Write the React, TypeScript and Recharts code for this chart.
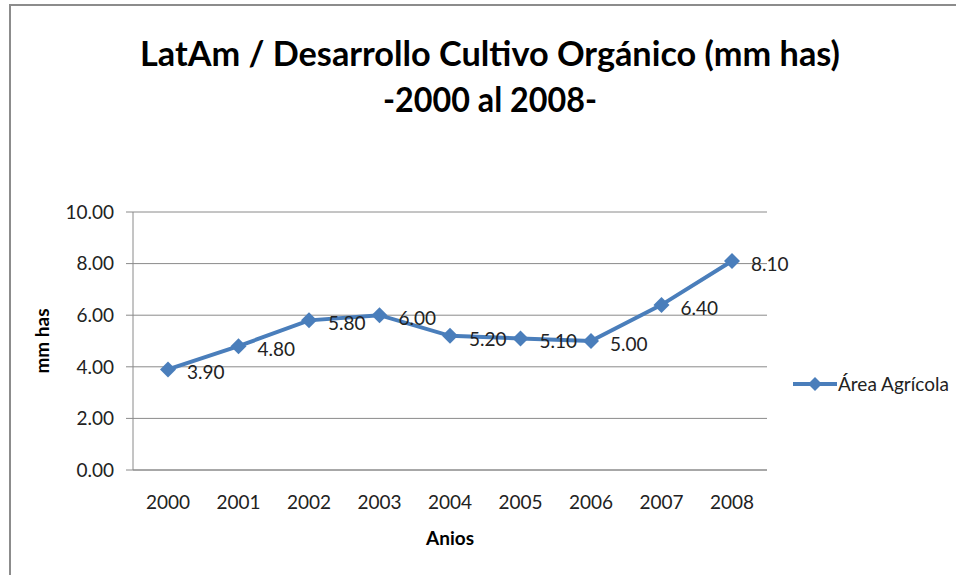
import React from "react"
import { LineChart, Line, XAxis, YAxis, CartesianGrid, LabelList, Legend } from "recharts"

const years = ["2000", "2001", "2002", "2003", "2004", "2005", "2006", "2007", "2008"]
const areaAgricola = [3.9, 4.8, 5.8, 6.0, 5.2, 5.1, 5.0, 6.4, 8.1]
const yTicks = [0, 2, 4, 6, 8, 10]

const seriesName = "Área Agrícola"
const blue = "#4a7ebb"
const font = "Lato, 'Open Sans', sans-serif"

const data = years.map((year, i) => ({ year, value: areaAgricola[i] }))

const Diamond = (props: any) => {
  const { cx, cy } = props
  if (cx == null || cy == null) return null
  const r = 8
  return (
    <path
      d={`M${cx},${cy - r} L${cx + r},${cy} L${cx},${cy + r} L${cx - r},${cy} Z`}
      fill={blue}
      stroke="none"
    />
  )
}

const LegendBox = () => (
  <div style={{ display: "flex", alignItems: "center", fontFamily: font, fontSize: 19, color: "#222", whiteSpace: "nowrap" }}>
    <svg width={44} height={20}>
      <line x1={0} y1={10} x2={44} y2={10} stroke={blue} strokeWidth={4} />
      <path d="M22,3 L29,10 L22,17 L15,10 Z" fill={blue} />
    </svg>
    <span style={{ marginLeft: 1 }}>{seriesName}</span>
  </div>
)

export default function App() {
  return (
    <div style={{ position: "absolute", left: 0, top: 0, width: 956, height: 575, background: "#fff", overflow: "hidden" }}>
      <div
        style={{
          position: "absolute",
          left: 9,
          top: 4,
          width: 1000,
          height: 700,
          borderTop: "2px solid #8c8c8c",
          borderLeft: "2px solid #8c8c8c",
        }}
      />
      <svg width={956} height={140} style={{ position: "absolute", left: 0, top: 0 }}>
        <text x={490} y={66} textAnchor="middle" fontFamily={font} fontWeight="bold" fontSize={34} fill="#000"
          textLength={700} lengthAdjust="spacingAndGlyphs">
          LatAm / Desarrollo Cultivo Orgánico (mm has)
        </text>
        <text x={490} y={112} textAnchor="middle" fontFamily={font} fontWeight="bold" fontSize={34} fill="#000"
          textLength={214} lengthAdjust="spacingAndGlyphs">
          -2000 al 2008-
        </text>
      </svg>
      <div style={{ position: "absolute", left: 0, top: 0 }}>
        <LineChart width={956} height={575} data={data} margin={{ top: 212, right: 189, bottom: 0, left: 73 }}>
          <CartesianGrid vertical={false} stroke="#8a8a8a" strokeWidth={1} />
          <XAxis
            dataKey="year"
            height={105}
            padding={{ left: 35, right: 35 }}
            axisLine={{ stroke: "#8a8a8a" }}
            tickLine={false}
            tickSize={0}
            tickMargin={26}
            tick={{ fontFamily: font, fontSize: 19, fill: "#222" }}
            label={{ value: "Anios", position: "insideBottom", offset: 30, style: { fontFamily: font, fontSize: 19, fontWeight: "bold", fill: "#000" } }}
          />
          <YAxis
            width={60}
            domain={[0, 10]}
            ticks={yTicks}
            tickFormatter={(v: number) => v.toFixed(2)}
            axisLine={{ stroke: "#8a8a8a" }}
            tickLine={{ stroke: "#8a8a8a" }}
            tickSize={7}
            tickMargin={12}
            tick={{ fontFamily: font, fontSize: 19, fill: "#222" }}
            label={{ value: "mm has", angle: -90, position: "insideLeft", offset: -31, style: { textAnchor: "middle", fontFamily: font, fontSize: 19, fontWeight: "bold", fill: "#000" } }}
          />
          <Legend
            layout="vertical"
            align="center"
            verticalAlign="middle"
            wrapperStyle={{ left: 793, top: 372, width: 160 }}
            content={() => <LegendBox />}
          />
          <Line
            type="linear"
            dataKey="value"
            name={seriesName}
            stroke={blue}
            strokeWidth={4}
            dot={<Diamond />}
            activeDot={false}
            isAnimationActive={false}
          >
            <LabelList
              dataKey="value"
              position="right"
              offset={19}
              formatter={(v: any) => Number(v).toFixed(2)}
              style={{ fontFamily: font, fontSize: 19, fill: "#222" }}
              dy={3}
            />
          </Line>
        </LineChart>
      </div>
    </div>
  )
}
